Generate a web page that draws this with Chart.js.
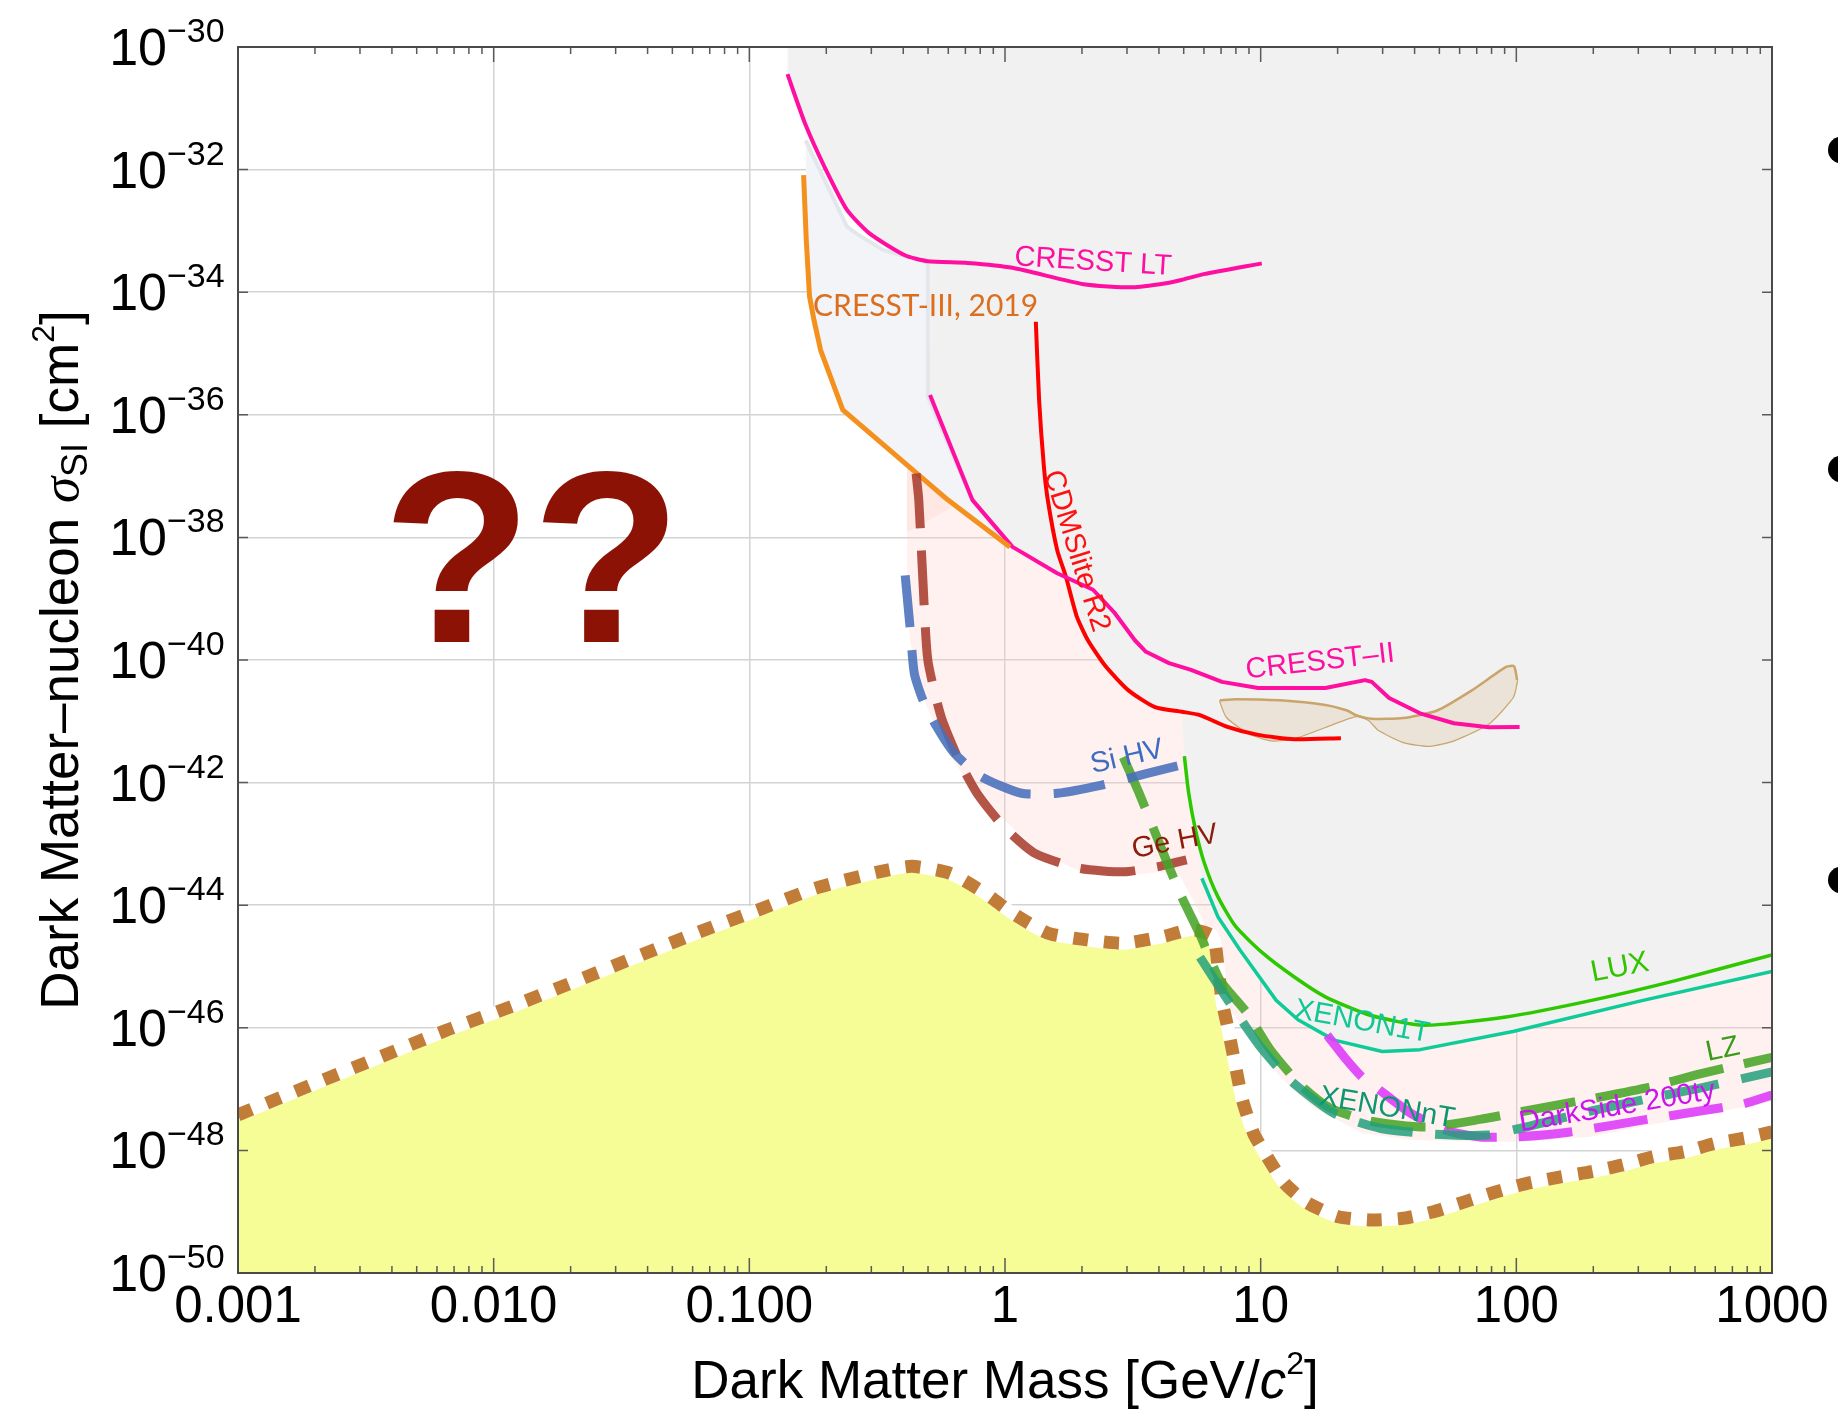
<!DOCTYPE html>
<html>
<head>
<meta charset="utf-8">
<title>Dark matter - nucleon cross-section limits</title>
<script src="https://cdn.jsdelivr.net/npm/chart.js@4.4.1/dist/chart.umd.min.js"></script>
<style>
  html, body { margin: 0; padding: 0; background: #ffffff; }
  canvas { display: block; }
</style>
</head>
<body>
<canvas id="limits_chart" width="1838" height="1411"></canvas>
<script>
// axis decades
const xTicks = [1e-3, 1e-2, 1e-1, 1, 10, 100, 1000];
const xTickLabels = ["0.001", "0.010", "0.100", "1", "10", "100", "1000"];
const yTicks = [1e-50, 1e-48, 1e-46, 1e-44, 1e-42, 1e-40, 1e-38, 1e-36, 1e-34, 1e-32, 1e-30];

// all curves are [mass GeV/c^2, sigma_SI cm^2]
const cresstLT = [[0.141, 3.6e-31], [0.165, 5.7e-32], [0.197, 1.1e-32], [0.241, 2.2e-33], [0.295, 9.1e-34],
  [0.406, 4.0e-34], [0.498, 3.2e-34], [0.714, 3.0e-34], [1.07, 2.5e-34], [2.03, 1.35e-34], [3.16, 1.2e-34],
  [4.27, 1.4e-34], [4.9, 1.58e-34], [5.98, 1.97e-34], [10.1, 2.95e-34]];

const cresst3 = [[0.163, 8.1e-33], [0.167, 7.1e-34], [0.172, 8.5e-35], [0.179, 3.5e-35], [0.190, 1.14e-35],
  [0.232, 1.2e-36], [0.597, 4.1e-38], [1.045, 7.0e-39]];

// upper edge of the CRESST-III excluded band
const cresst3Band = [[0.166, 3.0e-32], [0.241, 1.17e-33], [0.262, 9.1e-34], [0.333, 4.9e-34], [0.499, 3.0e-34],
  [0.499, 2.0e-36], [0.73, 4.9e-38], [1.03, 7.0e-39]];

const cresst2 = [[0.509, 2.1e-36], [0.745, 4.1e-38], [1.07, 7.0e-39], [1.60, 2.6e-39], [2.21, 1.4e-39],
  [2.69, 5.8e-40], [3.22, 2.1e-40], [3.56, 1.36e-40], [4.38, 8.9e-41], [5.34, 6.9e-41], [7.06, 4.4e-41],
  [9.77, 3.5e-41], [17.9, 3.5e-41], [25.6, 4.7e-41], [27.2, 4.4e-41], [31.8, 2.4e-41], [42, 1.35e-41],
  [57, 9.3e-42], [78, 8.0e-42], [103, 8.1e-42]];

const cdmslite = [[1.32, 3.3e-35], [1.36, 1.7e-36], [1.42, 1.4e-37], [1.47, 4.1e-38], [1.60, 6.2e-39],
  [1.73, 2.3e-39], [1.91, 5.1e-40], [2.11, 2.1e-40], [2.48, 7.8e-41], [3.04, 3.2e-41], [3.86, 1.7e-41],
  [4.92, 1.43e-41], [5.79, 1.26e-41], [7.36, 8.2e-42], [9.77, 6.0e-42], [13.5, 5.1e-42], [20.6, 5.3e-42]];

const lux = [[5.03, 2.7e-42], [5.23, 6.7e-43], [5.56, 1.7e-43], [6.03, 4.8e-44], [6.8, 1.38e-44], [7.98, 4.5e-45],
  [10.2, 1.65e-45], [13.5, 6.8e-46], [17.9, 3.2e-46], [26.8, 1.6e-46], [43.4, 1.1e-46], [91, 1.5e-46],
  [197, 2.8e-46], [427, 6.0e-46], [1000, 1.55e-45]];

const xenon1t = [[5.89, 2.75e-44], [6.8, 6.5e-45], [8.3, 1.86e-45], [11.5, 2.8e-46], [14.0, 1.35e-46],
  [19.4, 6.3e-47], [29.9, 4.1e-47], [42, 4.4e-47], [97, 8.7e-47], [313, 2.8e-46], [1000, 8.3e-46]];

// CRESST-II signal contour, upper and lower halves
const blobUpper = [[6.93, 2.2e-41], [8.0, 2.3e-41], [11.9, 2.2e-41], [17.9, 1.85e-41], [21.8, 1.5e-41],
  [23.6, 1.26e-41], [27.2, 1.1e-41], [36.1, 1.13e-41], [49, 1.5e-41], [67, 3.2e-41], [91.2, 7.7e-41],
  [98, 7.9e-41], [100.7, 4.7e-41]];
const blobLower = [[6.93, 2.2e-41], [7.38, 1.17e-41], [9.0, 6.4e-42], [11.0, 4.9e-42], [13.5, 5.3e-42],
  [17.9, 8.1e-42], [23.6, 1.22e-41], [26.5, 1.05e-41], [29.0, 7.2e-42], [36.1, 4.6e-42], [45.9, 4.0e-42],
  [57, 4.9e-42], [78.2, 9.3e-42], [97, 2.5e-41], [100.7, 4.7e-41]];

// projected reach
const siHV = [[0.407, 2.4e-39], [0.425, 3.5e-40], [0.442, 6.0e-41], [0.478, 2.2e-41], [0.540, 8.2e-42],
  [0.634, 3.0e-42], [0.807, 1.25e-42], [1.16, 6.7e-43], [1.60, 6.7e-43], [2.39, 9.1e-43], [3.57, 1.4e-42],
  [5.03, 2.0e-42]];
const geHV = [[0.449, 1.1e-37], [0.460, 4.1e-38], [0.478, 1.8e-39], [0.499, 1.0e-40], [0.562, 1.2e-41],
  [0.661, 2.3e-42], [0.777, 6.7e-43], [0.989, 1.9e-43], [1.31, 7.0e-44], [1.95, 4.0e-44], [2.92, 3.5e-44],
  [4.03, 4.3e-44], [5.13, 5.5e-44]];
const lz = [[2.90, 2.6e-42], [3.37, 6.3e-43], [4.04, 9.6e-44], [4.83, 1.58e-44], [5.79, 3.3e-45], [6.93, 6.0e-46],
  [8.85, 1.74e-46], [10.9, 4.4e-47], [14.3, 1.17e-47], [18.7, 4.9e-48], [26.8, 3.0e-48], [44.7, 2.4e-48],
  [72.1, 3.2e-48], [124, 4.9e-48], [212, 7.4e-48], [333, 1.08e-47], [523, 1.77e-47], [1000, 3.3e-47]];
const xenonNT = [[5.79, 1.42e-45], [7.59, 2.5e-46], [9.93, 5.0e-47], [13.0, 1.41e-47], [19.2, 4.1e-48],
  [29.3, 2.3e-48], [47.2, 1.85e-48], [76.7, 1.78e-48], [113, 2.5e-48], [182, 4.1e-48], [333, 7.1e-48],
  [523, 1.04e-47], [1000, 1.9e-47]];
const darkSide = [[18.2, 7.6e-47], [21.4, 3.2e-47], [24.9, 1.58e-47], [28.5, 1.04e-47], [38.4, 4.1e-48],
  [53.6, 2.1e-48], [72.1, 1.66e-48], [100.7, 1.66e-48], [162, 2.0e-48], [324, 3.2e-48], [523, 4.4e-48],
  [769, 5.7e-48], [1000, 8.0e-48]];

// lower edge of the combined projected-reach band
const projectedReach = [[0.414, 1.46e-37], [0.410, 1.18e-38], [0.414, 9.5e-40], [0.425, 2.1e-40],
  [0.461, 3.6e-41], [0.562, 4.9e-42], [0.716, 9.8e-43], [0.99, 2.5e-43], [1.36, 7.1e-44], [1.96, 3.6e-44],
  [2.92, 3.0e-44], [4.04, 3.5e-44], [4.83, 3.0e-44], [5.64, 9.3e-45], [6.5, 2.2e-45], [7.13, 2.8e-46],
  [8.85, 8.3e-47], [11.9, 1.58e-47], [16.0, 5.1e-48], [25.1, 1.9e-48], [39.4, 1.48e-48], [72.1, 1.38e-48],
  [100.7, 1.38e-48], [194, 1.66e-48], [333, 2.6e-48], [627, 4.3e-48], [1000, 6.2e-48]];

// neutrino floor
const nuFloor = [[0.001, 3.8e-48], [0.00653, 9.1e-47], [0.012, 2.3e-46], [0.0641, 3.7e-45], [0.108, 8.3e-45],
  [0.182, 1.9e-44], [0.321, 3.5e-44], [0.432, 4.3e-44], [0.61, 3.3e-44], [0.84, 1.55e-44], [1.07, 7.4e-45],
  [1.47, 3.5e-45], [2.11, 2.7e-45], [2.92, 2.4e-45], [4.19, 3.1e-45], [5.34, 4.0e-45], [6.5, 3.1e-45],
  [6.81, 1.0e-45], [7.06, 2.8e-46], [7.52, 8.1e-47], [7.98, 2.3e-47], [8.49, 6.6e-48], [9.38, 1.9e-48],
  [10.6, 7.9e-49], [12.4, 2.9e-49], [15.2, 1.4e-49], [20.1, 8.3e-50], [27.2, 7.3e-50], [36.1, 7.8e-50],
  [47.5, 1.0e-49], [62.8, 1.45e-49], [83, 2.1e-49], [110, 2.9e-49], [149, 3.7e-49], [197, 4.5e-49],
  [261, 5.8e-49], [344, 7.9e-49], [454, 9.5e-49], [598, 1.3e-48], [791, 1.6e-48], [1000, 2.0e-48]];

// excluded region: envelope of the current limits
const excludedEdge = [
  [cresstLT[0][0], 1e-30],
  ...cresstLT.filter(p => p[0] < 0.5),
  ...cresst2.filter(p => p[0] < 1.7),
  ...cdmslite.filter(p => p[0] > 1.65 && p[0] < 5),
  ...lux.filter(p => p[0] < 5.8),
  ...xenon1t
];

const curveLabels = [
  { text: "CRESST LT", m: 2.21, s: 3.1e-34, angle: 3.5, color: "#ff0f9f" },
  { text: "CRESST-III, 2019", m: 0.489, s: 5.9e-35, angle: 0, color: "#db6f1f", font: "30px Lato" },
  { text: "CDMSlite R2", m: 1.90, s: 6.0e-39, angle: 72.7, color: "#ff1010" },
  { text: "CRESST\u2013II", m: 17.1, s: 9.3e-41, angle: -6.6, color: "#ff0f9f" },
  { text: "Si HV", m: 3.0, s: 2.6e-42, angle: -13, color: "#3d6cc0" },
  { text: "Ge HV", m: 4.62, s: 1.07e-43, angle: -10.6, color: "#8c1c0c" },
  { text: "LUX", m: 254, s: 9.5e-46, angle: -11, color: "#33c400", font: "30px 'Liberation Sans'" },
  { text: "XENON1T", m: 24.9, s: 1.24e-46, angle: 10.4, color: "#12c794" },
  { text: "XENONnT", m: 31.2, s: 4.9e-48, angle: 9.7, color: "#0e9670" },
  { text: "DarkSide 200ty", m: 248, s: 5.1e-48, angle: -9.5, color: "#cc12ee" },
  { text: "LZ", m: 643, s: 4.4e-47, angle: -12, color: "#3a9a1a" }
];

const SANS = "'Liberation Sans', Arial, sans-serif";

function pts(arr) {
  return arr.map(p => ({ x: p[0], y: p[1] }));
}

function curve(data, color, width, extra) {
  return Object.assign({
    data: pts(data),
    borderColor: color,
    borderWidth: width,
    backgroundColor: "transparent",
    pointRadius: 0,
    fill: false,
    clip: 0,
    tension: 0,
    borderJoinStyle: "round",
    order: 5
  }, extra || {});
}

// text laid out piece by piece (italics, sub- and superscripts), centred on x,y
function richText(ctx, parts, x, y, rot) {
  ctx.save();
  ctx.translate(x, y);
  ctx.rotate(rot);
  ctx.textAlign = "left";
  ctx.textBaseline = "alphabetic";
  let total = 0;
  parts.forEach(p => { ctx.font = p.font; p.w = ctx.measureText(p.t).width; total += p.w; });
  let cx = -total / 2;
  parts.forEach(p => { ctx.font = p.font; ctx.fillText(p.t, cx, p.dy || 0); cx += p.w; });
  ctx.restore();
}

const decorations = {
  id: "decorations",
  afterDatasetsDraw(chart) {
    const ctx = chart.ctx;
    const xs = chart.scales.x;
    const ys = chart.scales.y;
    const { left, right, top, bottom } = chart.chartArea;

    // curve names
    curveLabels.forEach(l => {
      ctx.save();
      ctx.translate(xs.getPixelForValue(l.m), ys.getPixelForValue(l.s));
      ctx.rotate(l.angle * Math.PI / 180);
      ctx.font = l.font || "29px " + SANS;
      ctx.fillStyle = l.color;
      ctx.textAlign = "center";
      ctx.textBaseline = "middle";
      ctx.fillText(l.text, 0, 0);
      ctx.restore();
    });

    ctx.save();
    ctx.font = "bold 245px " + SANS;
    ctx.fillStyle = "#8b1204";
    ctx.textAlign = "center";
    ctx.textBaseline = "alphabetic";
    ctx.fillText("??", xs.getPixelForValue(0.0141), ys.getPixelForValue(1.95e-40));
    ctx.restore();

    // inner tick marks and frame
    ctx.save();
    ctx.strokeStyle = "#5a5a5a";
    ctx.lineWidth = 1.5;
    ctx.beginPath();
    for (let e = -3; e < 3; e++) {
      for (let k = 1; k < 10; k++) {
        const xp = xs.getPixelForValue(k * Math.pow(10, e));
        const len = k === 1 ? 15 : 7;
        ctx.moveTo(xp, bottom); ctx.lineTo(xp, bottom - len);
        ctx.moveTo(xp, top); ctx.lineTo(xp, top + len);
      }
    }
    yTicks.forEach(v => {
      const yp = ys.getPixelForValue(v);
      ctx.moveTo(left, yp); ctx.lineTo(left + 10, yp);
      ctx.moveTo(right, yp); ctx.lineTo(right - 10, yp);
    });
    ctx.stroke();
    ctx.strokeStyle = "#4a4a4a";
    ctx.lineWidth = 2;
    ctx.strokeRect(left, top, right - left, bottom - top);
    ctx.restore();

    // tick labels
    ctx.save();
    ctx.fillStyle = "#000";
    ctx.textAlign = "center";
    ctx.textBaseline = "alphabetic";
    ctx.font = "51px " + SANS;
    xTicks.forEach((v, i) => {
      ctx.fillText(xTickLabels[i], xs.getPixelForValue(v), bottom + 49);
    });
    yTicks.forEach(v => {
      const yp = ys.getPixelForValue(v);
      const exp = Math.round(Math.log10(v));
      ctx.textAlign = "right";
      ctx.font = "52px " + SANS;
      ctx.fillText("10", left - 71, yp + 18);
      ctx.textAlign = "left";
      ctx.font = "34px " + SANS;
      ctx.fillText("\u2212" + (-exp), left - 71, yp - 5);
    });
    ctx.restore();

    // axis titles
    ctx.save();
    ctx.fillStyle = "#000";
    const F = "53px " + SANS;
    richText(ctx, [
      { t: "Dark Matter Mass [GeV/", font: F },
      { t: "c", font: "italic 53px " + SANS },
      { t: "2", font: "32px " + SANS, dy: -24 },
      { t: "]", font: F }
    ], (left + right) / 2, bottom + 125, 0);
    richText(ctx, [
      { t: "Dark Matter\u2013nucleon ", font: F },
      { t: "\u03c3", font: "italic 53px 'Liberation Serif', serif" },
      { t: "SI", font: "36px " + SANS, dy: 9 },
      { t: " [cm", font: F },
      { t: "2", font: "32px " + SANS, dy: -24 },
      { t: "]", font: F }
    ], left - 160, (top + bottom) / 2, -Math.PI / 2);
    ctx.restore();

    // bullet points cut by the right edge
    ctx.save();
    ctx.fillStyle = "#000";
    [150, 469, 880].forEach(by => {
      ctx.beginPath();
      ctx.arc(chart.width + 3.5, by, 13.5, 0, Math.PI * 2);
      ctx.fill();
    });
    ctx.restore();
  }
};

const smooth = { tension: 0.2 };

const datasets = [
  // filled regions
  curve(projectedReach, "transparent", 0, { fill: "end", backgroundColor: "rgba(255, 205, 195, 0.27)", order: 10 }),
  curve(excludedEdge, "transparent", 0, { fill: "end", backgroundColor: "#f1f1f1", order: 9 }),
  curve(cresst3Band, "#e3e7ec", 4, { fill: "+1", backgroundColor: "#f2f4f8", order: 8 }),
  curve(cresst3, "#f3901e", 5, { order: 4 }),
  curve(nuFloor, "#ffffff", 13, Object.assign({ fill: "start", backgroundColor: "#f6fc96", order: 7 }, smooth)),
  curve(blobUpper, "#c9a46b", 2.5, Object.assign({ fill: "+1", backgroundColor: "#ebe3d7", order: 6 }, smooth)),
  curve(blobLower, "#c9a46b", 2.5, Object.assign({ order: 6 }, smooth)),
  // current limits
  curve(cresstLT, "#ff0f9f", 4, Object.assign({ order: 5 }, smooth)),
  curve(cresst2, "#ff0f9f", 4, { order: 5 }),
  curve(cdmslite, "#ff0000", 4, Object.assign({ order: 5 }, smooth)),
  curve(lux, "#2dc800", 3.5, Object.assign({ order: 5 }, smooth)),
  curve(xenon1t, "#0fcb98", 3.5, { order: 5 }),
  // neutrino floor
  curve(nuFloor, "#c17c38", 13, Object.assign({ borderDash: [15, 16], borderJoinStyle: "miter", order: 3 }, smooth)),
  // projections
  curve(geHV, "rgba(168, 62, 45, 0.88)", 9, Object.assign({ borderDash: [55, 22], order: 2 }, smooth)),
  curve(siHV, "rgba(72, 112, 188, 0.88)", 9, Object.assign({ borderDash: [52, 23], order: 1 }, smooth)),
  curve(darkSide, "rgba(222, 62, 250, 0.9)", 9, Object.assign({ borderDash: [54, 22], order: 2 }, smooth)),
  curve(lz, "rgba(72, 165, 40, 0.88)", 9, Object.assign({ borderDash: [55, 21], order: 1 }, smooth)),
  curve(xenonNT, "rgba(35, 160, 122, 0.85)", 9, Object.assign({ borderDash: [55, 23], order: 0 }, smooth))
];

const ctx = document.getElementById("limits_chart");

const limitsChart = new Chart(ctx, {
  type: "line",
  data: { datasets: datasets },
  options: {
    responsive: false,
    animation: false,
    events: [],
    layout: { padding: { left: 238, top: 47, right: 66, bottom: 138 } },
    plugins: {
      legend: { display: false },
      tooltip: { enabled: false },
      filler: { propagate: false }
    },
    scales: {
      x: {
        type: "logarithmic",
        min: 1e-3,
        max: 1e3,
        afterBuildTicks: axis => { axis.ticks = xTicks.map(v => ({ value: v })); },
        ticks: { display: false },
        grid: { color: "#d3d3d3", lineWidth: 1.5, drawTicks: false },
        border: { display: false }
      },
      y: {
        type: "logarithmic",
        min: 1e-50,
        max: 1e-30,
        afterBuildTicks: axis => { axis.ticks = yTicks.map(v => ({ value: v })); },
        ticks: { display: false },
        grid: { color: "#d3d3d3", lineWidth: 1.5, drawTicks: false },
        border: { display: false }
      }
    }
  },
  plugins: [decorations]
});
</script>
</body>
</html>
